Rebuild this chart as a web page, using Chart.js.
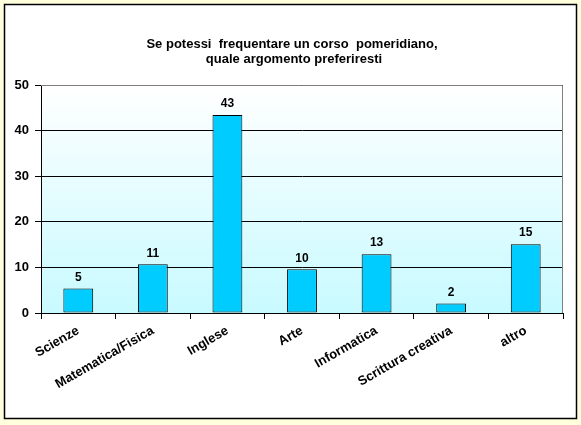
<!DOCTYPE html>
<html>
<head>
<meta charset="utf-8">
<script src="https://cdn.jsdelivr.net/npm/chart.js@4/dist/chart.umd.min.js"></script>
<style>
html,body{margin:0;padding:0;background:#FFFFDD;}
#wrap{width:581px;height:425px;position:relative;}
</style>
</head>
<body>
<div id="wrap"><canvas id="c" width="581" height="425"></canvas></div>
<script>
const categories = ["Scienze", "Matematica/Fisica", "Inglese", "Arte", "Informatica", "Scrittura creativa", "altro"];
const values = [5.4, 10.7, 43.4, 9.6, 12.9, 2.1, 15.1];
const valueLabels = ["5", "11", "43", "10", "13", "2", "15"];
const titleLines = ["Se potessi  frequentare un corso  pomeridiano,", "quale argomento preferiresti"];
const yTicks = [0, 10, 20, 30, 40, 50];

const FONT = "'Liberation Sans', Arial, sans-serif";

const framePlugin = {
  id: 'frame',
  beforeDraw(chart) {
    const ctx = chart.ctx;
    const a = chart.chartArea;
    ctx.save();
    ctx.fillStyle = '#FFFFDD';
    ctx.fillRect(0, 0, chart.width, chart.height);
    ctx.fillStyle = '#FFFFFF';
    ctx.fillRect(4, 4, 573, 415);
    ctx.strokeStyle = '#000000';
    ctx.lineWidth = 1.5;
    ctx.strokeRect(4.5, 4.5, 572, 414);
    const g = ctx.createLinearGradient(0, a.top, 0, a.bottom);
    g.addColorStop(0, '#FFFFFF');
    g.addColorStop(1, '#C8FAFF');
    ctx.fillStyle = g;
    ctx.fillRect(a.left, a.top, a.right - a.left, a.bottom - a.top);
    ctx.restore();
  },
  afterDatasetsDraw(chart) {
    const ctx = chart.ctx;
    const a = chart.chartArea;
    ctx.save();
    ctx.strokeStyle = '#808080';
    ctx.lineWidth = 1;
    ctx.beginPath();
    ctx.moveTo(a.left, a.top + 0.5);
    ctx.lineTo(a.right - 0.5, a.top + 0.5);
    ctx.lineTo(a.right - 0.5, a.bottom);
    ctx.stroke();
    ctx.fillStyle = '#000';
    ctx.font = "bold 12px " + FONT;
    ctx.textAlign = 'center';
    ctx.textBaseline = 'bottom';
    const meta = chart.getDatasetMeta(0);
    meta.data.forEach((bar, i) => {
      ctx.fillText(valueLabels[i], bar.x, bar.y - 5);
    });
    ctx.font = "bold 13px " + FONT;
    ctx.textBaseline = 'middle';
    ctx.fillText(titleLines[0], 292, 44);
    ctx.fillText(titleLines[1], 294, 59);
    ctx.restore();
  }
};

new Chart(document.getElementById('c'), {
  type: 'bar',
  data: {
    labels: categories,
    datasets: [{
      data: values,
      backgroundColor: '#00CCFF',
      borderColor: '#000000',
      borderWidth: 1,
      borderSkipped: false,
      categoryPercentage: 1.0,
      barPercentage: 0.4
    }]
  },
  options: {
    responsive: false,
    animation: false,
    devicePixelRatio: 1,
    layout: { padding: { left: 0, right: 18, top: 85, bottom: 0 } },
    plugins: { legend: { display: false }, title: { display: false }, tooltip: { enabled: false } },
    scales: {
      y: {
        min: 0, max: 50,
        afterFit(s) { s.width = 41; },
        afterBuildTicks(s) { s.ticks = yTicks.map(v => ({ value: v })); },
        ticks: { color: '#000', font: { family: FONT, size: 13, weight: 'bold' }, padding: 6 },
        grid: { color: '#000', lineWidth: 1, tickLength: 6, drawTicks: true },
        border: { color: '#000', width: 1 }
      },
      x: {
        offset: true,
        afterFit(s) { s.height = 112; },
        ticks: { color: '#000', font: { family: FONT, size: 13, weight: 'bold' }, minRotation: 30, maxRotation: 30, padding: 4, autoSkip: false },
        grid: { offset: true, drawOnChartArea: false, color: '#000', tickLength: 6 },
        border: { color: '#000', width: 1 }
      }
    }
  },
  plugins: [framePlugin]
});
</script>
</body>
</html>
